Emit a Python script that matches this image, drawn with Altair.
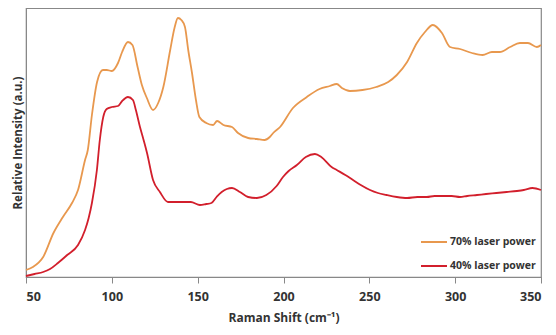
import altair as alt
import pandas as pd

# 70% laser power (x: Raman shift, y: relative intensity, arbitrary units)
x70 = [50, 54, 60, 66, 71.5, 76.8, 80.3, 84.4, 86, 88.4, 91.4, 94.8, 97, 100, 103.6, 106, 109.4, 112, 115,
       117.5, 120.4, 124, 127, 130, 134, 136.5, 138.5, 140.5, 142.6, 144.5, 146.7, 149, 151, 155, 159, 161.3,
       165, 170, 173.5, 179.4, 184.5, 189, 192, 194, 198, 205.5, 213.6, 221, 227, 231, 234, 238.7, 246, 254,
       261, 266, 272, 277.7, 282.4, 287, 292.3, 297, 302.8, 309.8, 316, 321.4, 326, 332, 337.7, 342.4, 347.6, 350]
y70 = [7, 10, 20, 44, 60, 74, 87, 117, 127, 162, 195, 207, 207, 206, 214, 225, 235, 232, 210,
       192, 179, 167, 174, 190, 227, 249, 259, 257, 250, 227, 204, 177, 160, 154, 152, 156,
       152, 150, 144, 139, 138, 137, 140, 144, 150, 169, 180, 188, 191, 193, 189, 186, 187, 190,
       195, 202, 215, 234, 245, 252, 244, 230, 228, 224, 222, 225, 225, 230, 234, 234, 230, 232]

# 40% laser power
x40 = [50, 55, 60, 64, 68.6, 74, 80.3, 84.4, 86.5, 88.4, 91.3, 93, 95, 97, 100, 103.6, 106, 109.4, 112.3,
       114, 116.4, 118.5, 120.5, 124, 128, 132.7, 137, 141.4, 146, 151.3, 155, 158, 161, 164, 167, 170,
       174.6, 179.4, 184.5, 190, 196, 199.7, 203, 207.8, 213, 218.3, 222, 228, 231, 236, 240.5, 245, 250.4,
       255, 260, 266, 272, 278, 283.5, 288, 293, 298, 302.8, 307, 312.7, 318, 324, 330, 336, 340, 345, 350]
y40 = [1, 3, 5, 8, 14, 22, 32, 47, 59, 74, 107, 137, 160, 168, 170, 171, 176, 180, 177,
       167, 150, 137, 124, 97, 85, 75, 75, 75, 75, 72, 73, 74, 80, 85, 88, 89,
       85, 80, 79, 82, 91, 100, 106, 112, 120, 123, 120, 110, 107, 102, 97, 92, 87,
       84, 82, 80, 79, 80, 80, 81, 81, 81, 80, 81, 82, 83, 84, 85, 86, 87, 89, 87]

s70 = "70% laser power"
s40 = "40% laser power"

df = pd.concat([
    pd.DataFrame({"shift": x70, "intensity": y70, "series": s70}),
    pd.DataFrame({"shift": x40, "intensity": y40, "series": s40}),
])

FONT = "Open Sans"

chart = alt.Chart(df).mark_line(strokeWidth=1.8, interpolate="monotone").encode(
    x=alt.X("shift:Q", scale=alt.Scale(domain=[50, 350], nice=False, zero=False),
            axis=alt.Axis(values=[50, 100, 150, 200, 250, 300, 350], title="Raman Shift (cm⁻¹)",
                          grid=False, tickSize=6, tickColor="#888888", domainColor="#888888",
                          labelFont=FONT, labelFontSize=12.5, labelFontWeight="bold", labelColor="#333333",
                          labelPadding=7, titleFont=FONT, titleFontSize=12, titleFontWeight="bold",
                          titleColor="#333333", titlePadding=10)),
    y=alt.Y("intensity:Q", scale=alt.Scale(domain=[0, 269], nice=False),
            axis=alt.Axis(title="Relative Intensity (a.u.)", labels=False, ticks=False, grid=False,
                          domainColor="#888888", titleFont=FONT, titleFontSize=11.5, titleFontWeight="bold",
                          titleColor="#333333", titlePadding=3)),
    color=alt.Color("series:N", scale=alt.Scale(domain=[s70, s40], range=["#E8984E", "#D21F2C"]),
                    legend=alt.Legend(title=None, orient="bottom-right", symbolType="stroke",
                                      symbolSize=676, symbolStrokeWidth=2, labelFont=FONT,
                                      labelFontSize=10.5, labelFontWeight="bold", labelColor="#333333",
                                      rowPadding=4, labelOffset=2, offset=5)),
    order=alt.Order("shift:Q"),
).properties(
    width=515, height=269,
    autosize=alt.AutoSizeParams(type="none"),
    padding={"left": 18, "top": 0, "right": 7, "bottom": 50},
).configure_view(stroke="#888888", strokeWidth=1.2)

chart.save("out.html", embed_options={"renderer": "svg", "actions": False})
